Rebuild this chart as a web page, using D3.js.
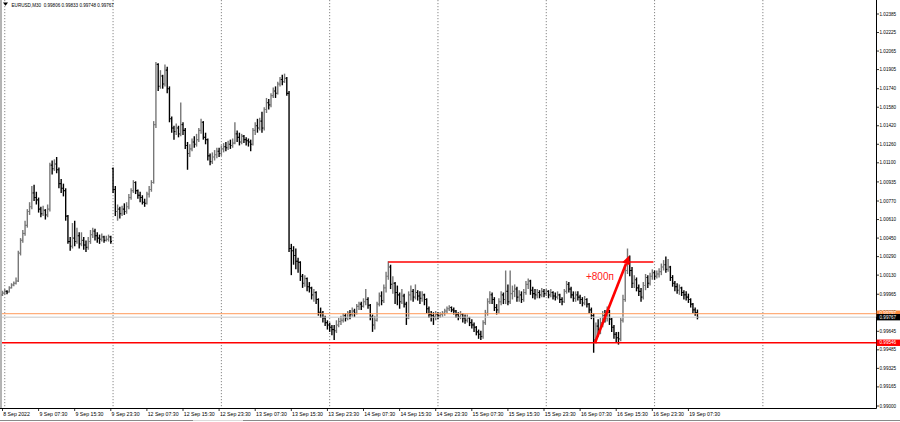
<!DOCTYPE html>
<html><head><meta charset="utf-8">
<script src="https://cdn.jsdelivr.net/npm/d3@7/dist/d3.min.js"></script>
<style>html,body{margin:0;padding:0;background:#fff;}svg{display:block;}</style>
</head><body><svg id="chart" width="900" height="422"></svg>
<script>
// ---------------- DATA (EURUSD M30, 8 Sep 23:30 .. 19 Sep 10:00) ----------------
const closes = [
// 9 Sep
0.99975,0.99990,0.99985,1.00020,1.00045,1.00060,1.00080,1.00320,1.00430,1.00490,
1.00560,1.00680,1.00720,1.00840,1.00800,1.00780,1.00700,1.00660,1.00690,1.00650,
1.00700,1.01080,1.01050,1.01090,1.01040,1.00920,1.00880,1.00860,1.00640,1.00420,
1.00380,1.00450,1.00420,1.00470,1.00400,1.00430,1.00390,1.00370,1.00420,1.00480,
1.00510,1.00470,1.00450,1.00440,1.00460,1.00430,1.00440,1.00460,1.00420,
// 12 Sep
1.00870,1.00680,1.00700,1.00660,1.00700,1.00680,1.00720,1.00800,1.00860,1.00930,
1.00860,1.00820,1.00800,1.00760,1.00750,1.00830,1.00870,1.00930,1.01430,1.01950,
1.01760,1.01850,1.01780,1.01900,1.01740,1.01480,1.01400,1.01370,1.01400,1.01350,
1.01430,1.01380,1.01250,1.01180,1.01220,1.01280,1.01260,1.01300,1.01380,1.01450,
1.01320,1.01300,1.01160,1.01110,1.01150,1.01170,1.01200,1.01180,
// 13 Sep
1.01220,1.01240,1.01230,1.01260,1.01250,1.01270,1.01350,1.01320,1.01280,1.01330,
1.01300,1.01290,1.01280,1.01260,1.01380,1.01420,1.01400,1.01460,1.01400,1.01560,
1.01620,1.01600,1.01680,1.01720,1.01700,1.01780,1.01820,1.01800,1.01830,1.01700,
1.00360,1.00340,1.00300,1.00250,1.00240,1.00120,1.00060,1.00100,1.00030,1.00020,
0.99960,0.99980,0.99920,0.99810,0.99800,0.99760,0.99720,0.99700,
// 14 Sep
0.99680,0.99660,0.99650,0.99700,0.99730,0.99740,0.99780,0.99760,0.99800,0.99790,
0.99820,0.99800,0.99860,0.99880,0.99860,0.99900,0.99920,0.99870,0.99770,0.99700,
0.99740,0.99880,0.99950,0.99910,1.00020,1.00120,1.00200,1.00050,1.00060,0.99980,
0.99960,0.99900,0.99950,0.99880,0.99760,0.99960,0.99990,0.99940,0.99980,0.99950,
0.99930,0.99960,0.99920,0.99840,0.99790,0.99780,0.99770,0.99790,
// 15 Sep
0.99780,0.99790,0.99800,0.99820,0.99840,0.99850,0.99830,0.99820,0.99790,0.99770,
0.99790,0.99760,0.99740,0.99760,0.99720,0.99700,0.99680,0.99640,0.99620,0.99600,
0.99720,0.99800,0.99900,0.99960,0.99920,0.99850,0.99830,0.99900,0.99960,0.99920,
0.99990,0.99900,0.99970,0.99990,1.00010,0.99940,0.99960,0.99920,0.99980,1.00050,
1.00080,1.00000,0.99970,0.99960,0.99980,0.99960,0.99990,0.99970,
// 16 Sep
0.99990,0.99960,0.99980,0.99950,0.99940,0.99960,0.99920,0.99900,0.99990,1.00050,
1.00010,0.99960,0.99930,0.99960,0.99940,0.99920,0.99890,0.99920,0.99880,0.99830,
0.99780,0.99570,0.99690,0.99660,0.99720,0.99780,0.99760,0.99810,0.99750,0.99680,
0.99620,0.99590,0.99580,0.99740,0.99920,1.00170,1.00280,1.00170,1.00060,1.00090,
1.00020,0.99990,0.99940,1.00040,1.00110,1.00060,1.00120,1.00150,
// 19 Sep
1.00120,1.00140,1.00160,1.00200,1.00220,1.00180,1.00200,1.00110,1.00060,1.00030,
1.00000,1.00020,0.99980,0.99960,0.99940,0.99920,0.99880,0.99830,0.99806,0.99767
];
const highs = [
0.99995,1.00010,1.00000,1.00035,1.00060,1.00075,1.00110,1.00340,1.00450,1.00520,
1.00600,1.00700,1.00760,1.00900,1.00910,1.00850,1.00800,1.00720,1.00730,1.00700,
1.00740,1.01100,1.01120,1.01130,1.01150,1.01060,1.00960,1.00920,1.00880,1.00650,
1.00460,1.00580,1.00600,1.00540,1.00500,1.00500,1.00460,1.00430,1.00460,1.00520,
1.00540,1.00530,1.00500,1.00480,1.00490,1.00470,1.00470,1.00480,1.00470,
1.01060,1.00900,1.00740,1.00720,1.00730,1.00750,1.00760,1.00830,1.00880,1.00950,
1.00940,1.00870,1.00850,1.00820,1.00790,1.00850,1.00900,1.00950,1.01460,1.01970,
1.01960,1.01900,1.01860,1.01950,1.01930,1.01760,1.01500,1.01420,1.01440,1.01420,
1.01620,1.01450,1.01400,1.01280,1.01260,1.01310,1.01330,1.01350,1.01400,1.01480,
1.01460,1.01360,1.01310,1.01180,1.01190,1.01210,1.01230,1.01230,
1.01250,1.01270,1.01280,1.01290,1.01300,1.01310,1.01450,1.01380,1.01360,1.01350,
1.01340,1.01320,1.01310,1.01300,1.01400,1.01450,1.01480,1.01490,1.01540,1.01580,
1.01660,1.01650,1.01700,1.01750,1.01760,1.01800,1.01840,1.01860,1.01870,1.01840,
1.01720,1.00400,1.00380,1.00360,1.00280,1.00250,1.00140,1.00130,1.00110,1.00070,
1.00030,1.00010,0.99990,0.99930,0.99850,0.99820,0.99780,0.99740,
0.99720,0.99700,0.99700,0.99740,0.99760,0.99780,0.99800,0.99800,0.99820,0.99830,
0.99850,0.99840,0.99880,0.99900,0.99900,0.99930,1.00010,0.99940,0.99880,0.99790,
0.99780,0.99900,0.99980,0.99990,1.00050,1.00160,1.00250,1.00220,1.00120,1.00070,
1.00040,0.99980,1.00010,0.99970,0.99900,0.99990,1.00040,1.00010,1.00050,1.00000,
0.99990,0.99990,0.99970,0.99930,0.99860,0.99820,0.99810,0.99820,
0.99810,0.99810,0.99820,0.99840,0.99860,0.99870,0.99860,0.99850,0.99830,0.99810,
0.99820,0.99800,0.99790,0.99790,0.99770,0.99750,0.99720,0.99690,0.99660,0.99650,
0.99740,0.99830,0.99930,0.99990,0.99980,0.99940,0.99880,0.99930,0.99990,0.99980,
1.00170,1.00050,1.00170,1.00040,1.00050,1.00030,1.00000,0.99990,1.00010,1.00080,
1.00100,1.00090,1.00030,1.00010,1.00010,1.00000,1.00020,1.00010,
1.00010,1.00000,1.00010,0.99990,0.99980,0.99990,0.99970,0.99940,1.00010,1.00080,
1.00070,1.00030,0.99990,0.99990,0.99990,0.99960,0.99940,0.99950,0.99930,0.99890,
0.99850,0.99800,0.99720,0.99750,0.99760,0.99820,0.99830,0.99860,0.99830,0.99760,
0.99700,0.99640,0.99640,0.99760,0.99960,1.00200,1.00360,1.00300,1.00200,1.00130,
1.00110,1.00050,1.00020,1.00070,1.00140,1.00130,1.00150,1.00180,
1.00170,1.00170,1.00190,1.00230,1.00260,1.00290,1.00270,1.00210,1.00130,1.00080,
1.00060,1.00050,1.00030,1.00000,0.99990,0.99970,0.99930,0.99890,0.99850,0.99833
];
const lows = [
0.99950,0.99960,0.99965,0.99980,1.00015,1.00035,1.00050,1.00070,1.00300,1.00410,
1.00470,1.00540,1.00650,1.00700,1.00770,1.00740,1.00670,1.00630,1.00640,1.00610,
1.00630,1.00680,1.01000,1.01030,1.01010,1.00880,1.00840,1.00810,1.00600,1.00400,
1.00340,1.00360,1.00380,1.00400,1.00360,1.00380,1.00350,1.00330,1.00350,1.00400,
1.00450,1.00430,1.00410,1.00400,1.00420,1.00410,1.00420,1.00420,1.00400,
1.00840,1.00640,1.00600,1.00620,1.00640,1.00650,1.00660,1.00700,1.00780,1.00840,
1.00830,1.00790,1.00760,1.00740,1.00720,1.00740,1.00800,1.00850,1.00920,1.01400,
1.01720,1.01740,1.01740,1.01760,1.01700,1.01450,1.01360,1.01300,1.01340,1.01320,
1.01330,1.01340,1.01220,1.01040,1.01150,1.01200,1.01230,1.01240,1.01280,1.01350,
1.01300,1.01260,1.01120,1.01080,1.01090,1.01120,1.01140,1.01150,
1.01160,1.01190,1.01200,1.01210,1.01220,1.01230,1.01260,1.01280,1.01250,1.01260,
1.01270,1.01250,1.01240,1.01200,1.01250,1.01340,1.01360,1.01380,1.01360,1.01380,
1.01530,1.01560,1.01580,1.01660,1.01660,1.01690,1.01760,1.01770,1.01790,1.01680,
1.00330,1.00130,1.00220,1.00180,1.00150,1.00080,1.00020,1.00030,0.99990,0.99980,
0.99920,0.99900,0.99880,0.99780,0.99760,0.99720,0.99690,0.99660,
0.99640,0.99610,0.99570,0.99630,0.99680,0.99700,0.99720,0.99730,0.99740,0.99750,
0.99770,0.99770,0.99790,0.99830,0.99830,0.99850,0.99870,0.99840,0.99740,0.99640,
0.99660,0.99730,0.99860,0.99870,0.99890,0.99980,1.00090,1.00010,0.99970,0.99880,
0.99870,0.99840,0.99880,0.99850,0.99700,0.99750,0.99910,0.99900,0.99920,0.99910,
0.99880,0.99900,0.99870,0.99800,0.99760,0.99730,0.99700,0.99740,
0.99750,0.99760,0.99770,0.99780,0.99800,0.99820,0.99810,0.99790,0.99760,0.99740,
0.99750,0.99720,0.99710,0.99720,0.99690,0.99670,0.99640,0.99610,0.99580,0.99570,
0.99580,0.99700,0.99780,0.99880,0.99880,0.99820,0.99790,0.99800,0.99870,0.99880,
0.99880,0.99870,0.99880,0.99920,0.99940,0.99900,0.99900,0.99890,0.99900,0.99960,
1.00010,0.99960,0.99930,0.99920,0.99930,0.99930,0.99940,0.99940,
0.99950,0.99930,0.99940,0.99920,0.99910,0.99920,0.99890,0.99870,0.99890,0.99970,
0.99980,0.99930,0.99900,0.99900,0.99910,0.99880,0.99860,0.99870,0.99850,0.99800,
0.99750,0.99460,0.99540,0.99600,0.99620,0.99680,0.99720,0.99730,0.99700,0.99640,
0.99580,0.99550,0.99530,0.99560,0.99720,0.99900,1.00140,1.00120,1.00020,1.00020,
0.99990,0.99950,0.99900,0.99920,1.00000,1.00020,1.00040,1.00090,
1.00090,1.00100,1.00110,1.00130,1.00170,1.00150,1.00160,1.00080,1.00030,0.99990,
0.99970,0.99960,0.99950,0.99920,0.99910,0.99890,0.99850,0.99800,0.99780,0.99748
];
const firstOpen = 0.99960;
const gapBars = [49];          // Monday open gap
const gapOpens = [1.01050];

const xTickBars = [0,16,32,48,64,80,96,112,128,144,160,176,192,208,224,240,256,272,288,304];
const xTickLabels = ["8 Sep 2022","9 Sep 07:30","9 Sep 15:30","9 Sep 23:30","12 Sep 07:30","12 Sep 15:30",
  "12 Sep 23:30","13 Sep 07:30","13 Sep 15:30","13 Sep 23:30","14 Sep 07:30","14 Sep 15:30","14 Sep 23:30",
  "15 Sep 07:30","15 Sep 15:30","15 Sep 23:30","16 Sep 07:30","16 Sep 15:30","16 Sep 23:30","19 Sep 07:30"];
const yTicks = [1.02385,1.02225,1.02065,1.01905,1.01740,1.01580,1.01420,1.01260,1.01100,1.00935,1.00770,
  1.00610,1.00450,1.00290,1.00130,0.99965,0.99805,0.99645,0.99485,0.99325,0.99165,0.99000];
const daySeparators = [1,49,97,145,193,241,289,337];

const symbolTitle = "EURUSD,M30";
const askLevel = 0.99797, bidLevel = 0.99767, supportLevel = 0.99546;
const resistanceLevel = 1.00243, resistanceFrom = 171, resistanceTo = 288.5;
const arrowFrom = [262.6, 0.99546], arrowTo = [277.8, 1.00300];
const noteText = "+800п", notePos = [258.6, 1.00085];

// ---------------- DRAWING ----------------
const svg = d3.select("#chart");
const plotR = 876.5, plotB = 408.5;
const x = d3.scaleLinear().domain([0, 337]).range([2.5, 2.5 + 337 * 2.2563]);
const y = d3.scaleLinear().domain([0.99000, 1.02385]).range([406, 14]);
const FONT = "'Liberation Sans', Arial, sans-serif";

const bars = closes.map((c, i) => {
  let o = i === 0 ? firstOpen : Math.max(lows[i], Math.min(highs[i], closes[i - 1]));
  const g = gapBars.indexOf(i);
  if (g >= 0) o = gapOpens[g];
  return {i, o, h: highs[i], l: lows[i], c};
});

svg.append("rect").attr("width", 900).attr("height", 422).attr("fill", "#fff");
svg.append("rect").attr("x", 0).attr("y", 0).attr("width", 2).attr("height", plotB).attr("fill", "#b4b4b4");

// day separators
svg.append("g").selectAll("line").data(daySeparators).join("line")
  .attr("x1", d => x(d)).attr("x2", d => x(d)).attr("y1", 0).attr("y2", plotB)
  .attr("stroke", "#6a6a6a").attr("stroke-width", 0.8).attr("stroke-dasharray", "1.2,1.8");

// bars
const bg = svg.append("g");
bars.forEach(b => {
  const col = b.c >= b.o ? "#777777" : "#000";
  const xx = x(b.i);
  bg.append("line").attr("x1", xx).attr("x2", xx).attr("y1", y(b.h)).attr("y2", y(b.l))
    .attr("stroke", col).attr("stroke-width", 1.4);
  bg.append("line").attr("x1", xx - 1.2).attr("x2", xx).attr("y1", y(b.o)).attr("y2", y(b.o))
    .attr("stroke", col).attr("stroke-width", 1.1);
  bg.append("line").attr("x1", xx).attr("x2", xx + 1.2).attr("y1", y(b.c)).attr("y2", y(b.c))
    .attr("stroke", col).attr("stroke-width", 1.1);
});

// horizontal levels
function hline(v, color, w, x1, x2) {
  svg.append("line").attr("x1", x1).attr("x2", x2).attr("y1", y(v)).attr("y2", y(v))
    .attr("stroke", color).attr("stroke-width", w);
}
hline(askLevel, "#ff9a5a", 1, 2, plotR);
hline(bidLevel, "#c8c8c8", 1, 2, plotR);
hline(supportLevel, "#ff0000", 1.6, 2, plotR);
hline(resistanceLevel, "#ff0000", 1.6, x(resistanceFrom), x(resistanceTo));

// arrow
const ax1 = x(arrowFrom[0]), ay1 = y(arrowFrom[1]), ax2 = x(arrowTo[0]), ay2 = y(arrowTo[1]);
const ang = Math.atan2(ay2 - ay1, ax2 - ax1), hl = 9, hw = 4;
const bx = ax2 - hl * Math.cos(ang), by = ay2 - hl * Math.sin(ang);
svg.append("line").attr("x1", ax1).attr("y1", ay1).attr("x2", bx).attr("y2", by)
  .attr("stroke", "#ff0000").attr("stroke-width", 2.6);
svg.append("polygon").attr("fill", "#ff0000").attr("points", [
  [ax2, ay2], [bx + hw * Math.sin(ang), by - hw * Math.cos(ang)], [bx - hw * Math.sin(ang), by + hw * Math.cos(ang)]
].map(p => p.join(",")).join(" "));
svg.append("text").attr("x", x(notePos[0])).attr("y", y(notePos[1])).text(noteText)
  .attr("fill", "#ff2020").attr("font-family", FONT).attr("font-size", 10);

// frame
svg.append("line").attr("x1", plotR).attr("x2", plotR).attr("y1", 0).attr("y2", plotB).attr("stroke", "#000").attr("stroke-width", 1);
svg.append("line").attr("x1", 0).attr("x2", plotR).attr("y1", plotB).attr("y2", plotB).attr("stroke", "#000").attr("stroke-width", 1);

// y axis
const ya = svg.append("g");
yTicks.forEach(v => {
  ya.append("line").attr("x1", plotR).attr("x2", plotR + 2.5).attr("y1", y(v)).attr("y2", y(v)).attr("stroke", "#000").attr("stroke-width", 0.8);
  ya.append("text").attr("x", 879.5).attr("y", y(v) + 1.6).text(v.toFixed(5))
    .attr("font-family", FONT).attr("font-size", 4.6).attr("fill", "#000");
});
// price boxes
function priceBox(v, fill) {
  svg.append("rect").attr("x", plotR).attr("y", y(v) - 3.2).attr("width", 900 - plotR).attr("height", 6.4).attr("fill", fill);
  svg.append("text").attr("x", 879.5).attr("y", y(v) + 1.6).text(v.toFixed(5))
    .attr("font-family", FONT).attr("font-size", 4.6).attr("fill", "#fff");
}
priceBox(askLevel, "#ff8c40");
priceBox(bidLevel, "#000");
priceBox(supportLevel, "#ff0000");

// x axis
const xa = svg.append("g");
xTickBars.forEach((b, k) => {
  xa.append("line").attr("x1", x(b)).attr("x2", x(b)).attr("y1", plotB).attr("y2", plotB + 2.5).attr("stroke", "#000").attr("stroke-width", 0.8);
  xa.append("text").attr("x", x(b) + 0.8).attr("y", 415.5).text(xTickLabels[k])
    .attr("font-family", FONT).attr("font-size", 5.2).attr("fill", "#000");
});

// window bottom edge
svg.append("line").attr("x1", 0).attr("x2", 900).attr("y1", 420.5).attr("y2", 420.5).attr("stroke", "#8a8a8a").attr("stroke-width", 1);
svg.append("line").attr("x1", 193).attr("x2", 243).attr("y1", 420.5).attr("y2", 420.5).attr("stroke", "#dcdcdc").attr("stroke-width", 1);

// header
const last = bars[bars.length - 1];
svg.append("polygon").attr("points", "3,2.6 8,2.6 5.5,5.8").attr("fill", "#000");
svg.append("text").attr("x", 11.5).attr("y", 6.6)
  .text(symbolTitle + "  " + [last.o, last.h, last.l, last.c].map(v => v.toFixed(5)).join(" "))
  .attr("font-family", FONT).attr("font-size", 4.6).attr("fill", "#000").attr("xml:space", "preserve")
  .style("white-space", "pre");
</script></body></html>
